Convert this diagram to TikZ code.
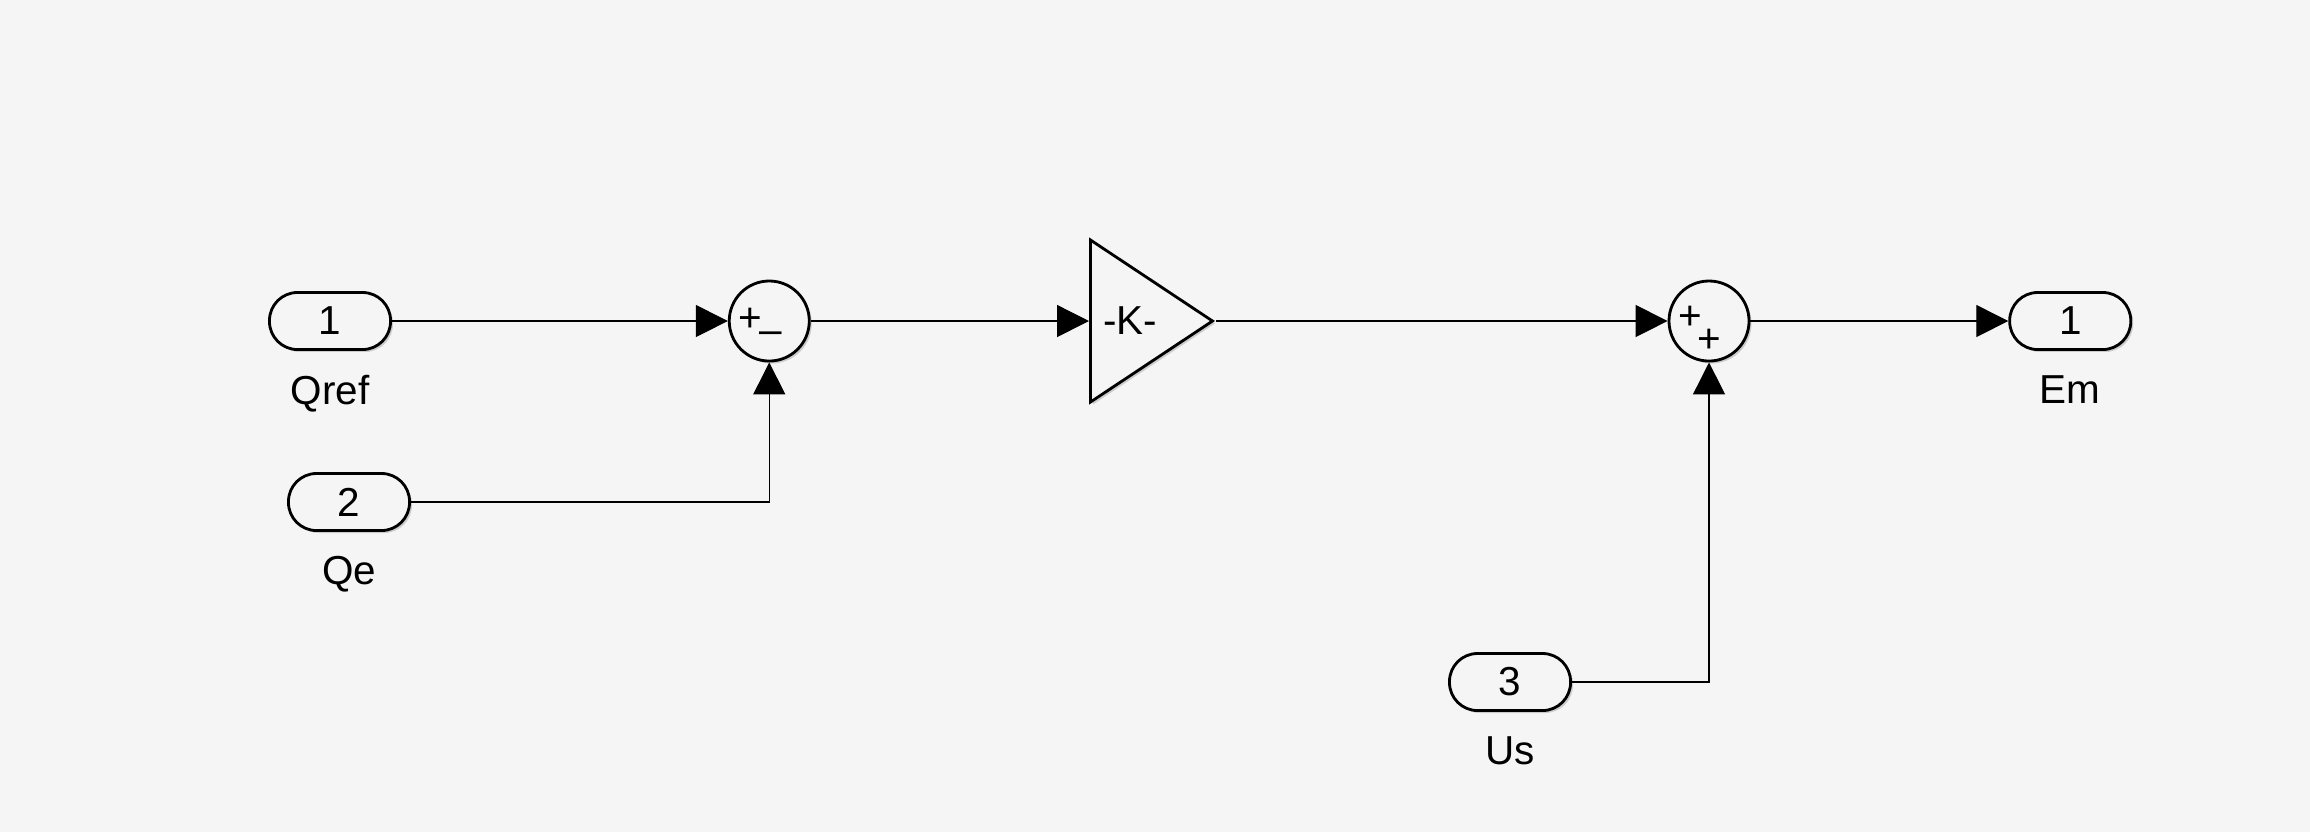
\documentclass[tikz,border=0pt]{standalone}
\usepackage{fontspec}
\setmainfont{Liberation Sans}
\usetikzlibrary{arrows.meta,shapes.geometric,shadows}
\definecolor{canvas}{HTML}{F5F5F5}

\begin{document}
\begin{tikzpicture}[x=0.01cm,y=-0.01cm,->,>={Triangle[length=0.32cm,width=0.32cm]},thin,node distance=4.39cm,
  every node/.style={font=\fontsize{11.5pt}{14pt}\selectfont}]
  \tikzstyle{block}=[draw=black,fill=canvas,line width=0.8pt,inner sep=0pt,drop shadow={shadow xshift=0.7pt,shadow yshift=-0.7pt,opacity=0.35}]
  \tikzstyle{port}=[block,rounded corners=0.28cm,minimum width=1.21cm,minimum height=0.57cm]
  \tikzstyle{sum}=[block,circle,minimum size=0.8cm]
  \tikzstyle{gain}=[block,isosceles triangle,isosceles triangle stretches,minimum width=1.62cm,minimum height=1.22cm]
  \tikzstyle{sign}=[inner sep=0pt]
  \tikzstyle{tag}=[label distance=0.12cm]
\fill[canvas,use as bounding box] (0,0) rectangle (2310,832);
\node[port,label={[tag]below:Qref}] (qref) at (330,321) {1};
\node[port,label={[tag]below:Qe}] (qe) at (349,502) {2};
\node[sum] (s1) [right of=qref] {};
\node[sign] (s1a) at ([xshift=-0.19cm,yshift=0.01cm]s1.center) {+};
\node[sign] (s1b) at ([xshift=0.01cm,yshift=-0.17cm]s1.center) {–};
\node[gain,anchor=lower side] (k) at (1089,321) {};
\node[sign] (ktxt) at (1130,321) {-K-};
\node[sum] (s2) at (1709,321) {};
\node[sign] (s2a) at ([xshift=-0.19cm,yshift=0.03cm]s2.center) {+};
\node[sign] (s2b) at ([yshift=-0.2cm]s2.center) {+};
\node[port,label={[tag]below:Em}] (em) [right of=s2, node distance=3.61cm] {1};
\node[port,label={[tag]below:Us}] (us) at (1510,682) {3};
\path
(qref) edge (s1)
(s1) edge (k.lower side)
(k.apex) edge (s2)
(s2) edge (em);
\draw (qe) -| (s1);
\draw (us) -| (s2);
\end{tikzpicture}
\end{document}
